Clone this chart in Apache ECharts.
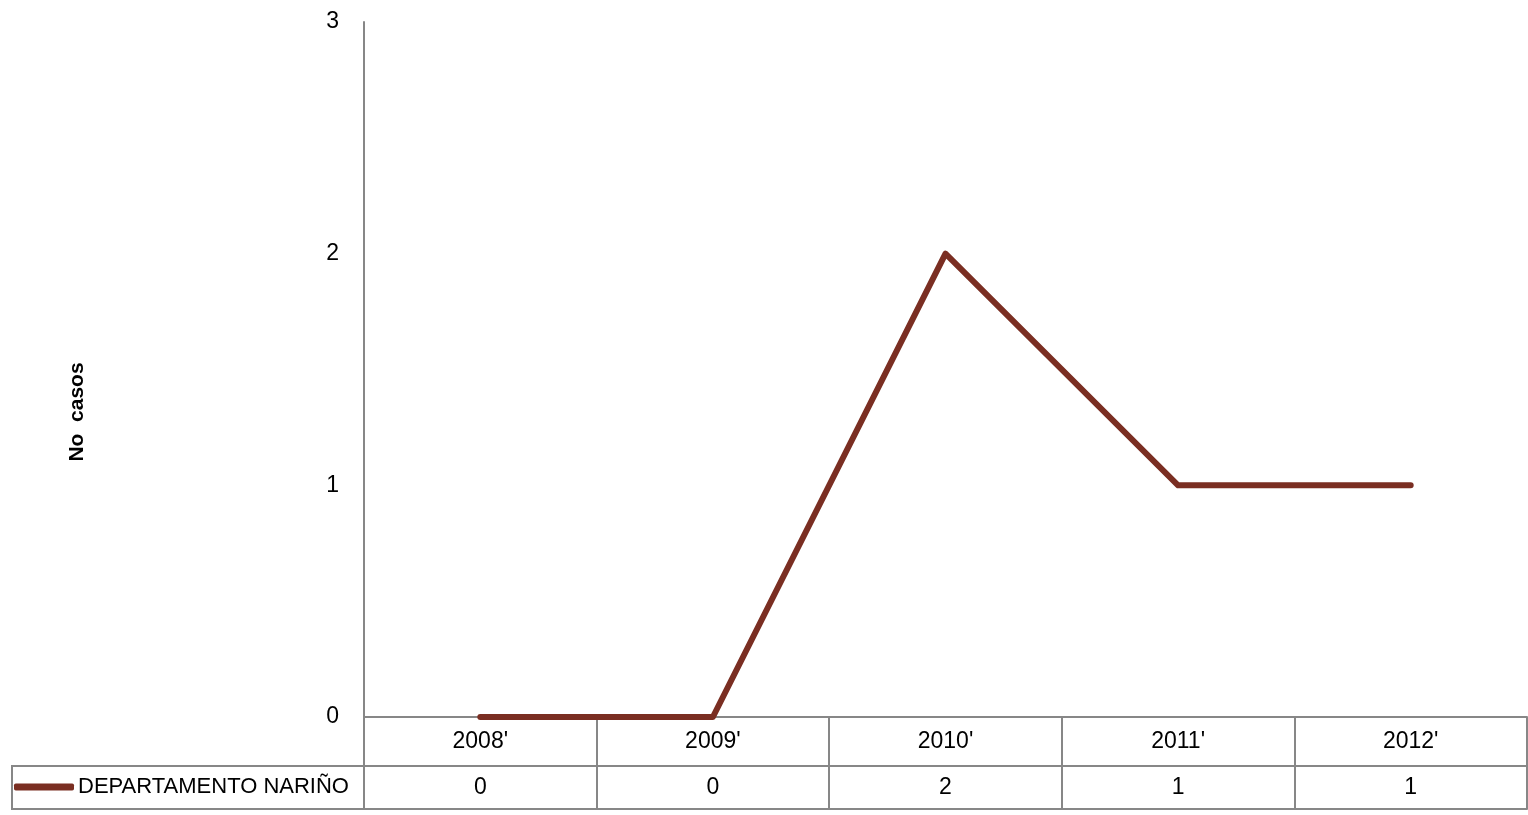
<!DOCTYPE html>
<html>
<head>
<meta charset="utf-8">
<script src="https://cdn.jsdelivr.net/npm/echarts@6/dist/echarts.min.js"></script>
<style>html,body{margin:0;padding:0;background:#fff}#c{width:1528px;height:815px}</style>
</head>
<body>
<div id="c"></div>
<script>
const categories = ["2008'", "2009'", "2010'", "2011'", "2012'"];
const seriesName = "DEPARTAMENTO NARIÑO";
const values = [0, 0, 2, 1, 1];
const yTicks = [0, 1, 2, 3];
const yTitle = "No  casos";

const FONT = "Liberation Sans";
const FS = 23;
const GREY = "#878787";
const LINE = "#7A2E22";

const chart = echarts.init(document.getElementById('c'), null, {renderer: 'canvas'});
chart.setOption({
  animation: false,
  backgroundColor: '#fff',
  textStyle: {fontFamily: FONT},
  grid: {left: 364, right: 1, top: 22, bottom: 98},
  legend: {
    data: [seriesName], left: 14, top: 776, icon: 'roundRect', padding: 0,
    itemWidth: 60, itemHeight: 7, itemGap: 4,
    textStyle: {fontFamily: FONT, fontSize: 22, color: '#000', padding: [0,0,0,-1]}
  },
  xAxis: [
    {type: 'category', data: categories, position: 'bottom', boundaryGap: true,
     axisLine: {show: true, lineStyle: {color: GREY, width: 2}},
     axisTick: {show: true, length: 92, interval: 0, lineStyle: {color: GREY, width: 2}},
     axisLabel: {show: true, interval: 0, margin: 13, fontSize: FS, color: '#000', fontFamily: FONT},
     splitLine: {show: false}},
    {type: 'category', data: categories, position: 'bottom', offset: 49, boundaryGap: true,
     axisLine: {show: true, lineStyle: {color: GREY, width: 2}},
     axisTick: {show: false},
     axisLabel: {show: true, interval: 0, margin: 10, fontSize: FS, color: '#000', fontFamily: FONT,
                 formatter: (v, i) => String(values[i])}},
    {type: 'category', data: categories, position: 'bottom', offset: 92, boundaryGap: true,
     axisLine: {show: true, lineStyle: {color: GREY, width: 2}},
     axisTick: {show: false}, axisLabel: {show: false}}
  ],
  yAxis: {
    type: 'value', min: yTicks[0], max: yTicks[yTicks.length - 1], interval: 1,
    axisLine: {show: true, lineStyle: {color: GREY, width: 2}},
    axisTick: {show: false},
    splitLine: {show: false},
    axisLabel: {margin: 25, fontSize: FS, color: '#000', fontFamily: FONT}
  },
  graphic: [
    {type: 'rect', shape: {x: 12, y: 766, width: 352, height: 43},
     style: {fill: 'none', stroke: GREY, lineWidth: 2}, z: 10},
    {type: 'text', x: 77, y: 412, rotation: Math.PI / 2,
     style: {text: yTitle, font: 'bold 21px "' + FONT + '"', fill: '#000', textAlign: 'center', textVerticalAlign: 'middle'}}
  ],
  series: [{
    name: seriesName, type: 'line', data: values, xAxisIndex: 0,
    showSymbol: false, symbol: 'none',
    lineStyle: {color: LINE, width: 6, cap: 'round', join: 'round'},
    itemStyle: {color: LINE}
  }]
});
</script>
</body>
</html>
